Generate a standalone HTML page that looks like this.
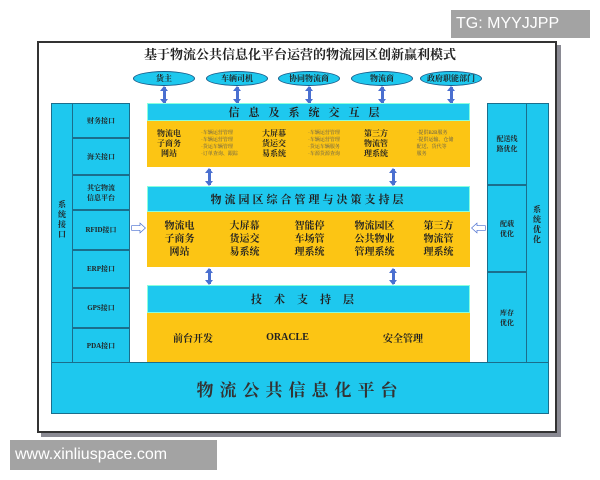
<!DOCTYPE html><html><head><meta charset="utf-8"><style>
body{margin:0;width:600px;height:480px;background:#fff;position:relative;overflow:hidden;font-family:"Liberation Serif","Noto Serif CJK SC","Noto Sans CJK SC",serif}
div{position:absolute;box-sizing:border-box}
.c{background:#1ec8ee;border:1px solid #1b6e8c}
.y{background:#fcc514}
.t{display:flex;align-items:center;justify-content:center;text-align:center;font-weight:bold;color:#222}
.ov{background:#1ec8ee;border:1.5px solid #1b5d8a;border-radius:50%;font-size:8px;height:15px;width:62px;top:71px}
.ar{width:3px;background:#4a6fd0}
.ar:before,.ar:after{content:"";position:absolute;left:-3px;border-left:4.5px solid transparent;border-right:4.5px solid transparent}
.ar:before{top:-1px;border-bottom:5px solid #4a6fd0}
.ar:after{bottom:-1px;border-top:5px solid #4a6fd0}
.sm{font-size:9px;line-height:10px}
.tiny{font-size:5px;line-height:7px;color:#555;font-weight:normal;text-align:left}
</style></head><body>
<div style="left:41px;top:45px;width:520px;height:392px;background:#8a8a93"></div>
<div style="left:37px;top:41px;width:520px;height:392px;background:#fff;border:2px solid #333"></div>
<div class="t" style="left:120px;top:44px;width:360px;height:18px;font-size:13px">基于物流公共信息化平台运营的物流园区创新赢利模式</div>
<div class="ov t" style="left:133px">货主</div>
<div class="ov t" style="left:206px">车辆司机</div>
<div class="ov t" style="left:278px">协同物流商</div>
<div class="ov t" style="left:351px">物流商</div>
<div class="ov t" style="left:420px">政府职能部门</div>
<div class="ar" style="left:163px;top:87px;height:16px"></div>
<div class="ar" style="left:236px;top:87px;height:16px"></div>
<div class="ar" style="left:308px;top:87px;height:16px"></div>
<div class="ar" style="left:381px;top:87px;height:16px"></div>
<div class="ar" style="left:450px;top:87px;height:16px"></div>
<!-- left column -->
<div class="c" style="left:51px;top:103px;width:79px;height:260px"></div>
<div class="t" style="left:53px;top:190px;width:18px;height:60px;font-size:8px;line-height:10px">系<br>统<br>接<br>口</div>
<div class="c t sm" style="left:72px;top:103px;width:58px;height:35px;font-size:7px">财务接口</div>
<div class="c t sm" style="left:72px;top:138px;width:58px;height:37px;font-size:7px">海关接口</div>
<div class="c t sm" style="left:72px;top:175px;width:58px;height:35px;font-size:7px">其它物流<br>信息平台</div>
<div class="c t sm" style="left:72px;top:210px;width:58px;height:40px;font-size:7px">RFID接口</div>
<div class="c t sm" style="left:72px;top:250px;width:58px;height:38px;font-size:7px">ERP接口</div>
<div class="c t sm" style="left:72px;top:288px;width:58px;height:40px;font-size:7px">GPS接口</div>
<div class="c t sm" style="left:72px;top:328px;width:58px;height:35px;font-size:7px">PDA接口</div>
<!-- right column -->
<div class="c" style="left:487px;top:103px;width:62px;height:260px"></div>
<div class="t" style="left:527px;top:200px;width:20px;height:50px;font-size:8px;line-height:10px">系<br>统<br>优<br>化</div>
<div class="c t" style="left:487px;top:103px;width:40px;height:82px;font-size:7px">配送线<br>路优化</div>
<div class="c t" style="left:487px;top:185px;width:40px;height:87px;font-size:7px">配载<br>优化</div>
<div class="c t" style="left:487px;top:272px;width:40px;height:91px;font-size:7px">库存<br>优化</div>
<!-- info layer -->
<div class="c t" style="left:147px;top:103px;width:323px;height:18px;font-size:11px;letter-spacing:9px;border-color:#8fd">信息及系统交互层</div>
<div class="y" style="left:147px;top:121px;width:323px;height:46px"></div>
<div class="t" style="left:150px;top:123px;width:38px;height:42px;font-size:8px;line-height:10px">物流电<br>子商务<br>网站</div>
<div class="t tiny" style="left:192px;top:125px;width:55px;height:38px">·车辆运营管理<br>·车辆运营管理<br>·货运车辆管理<br>·订单查询、跟踪</div>
<div class="t" style="left:255px;top:123px;width:38px;height:42px;font-size:8px;line-height:10px">大屏幕<br>货运交<br>易系统</div>
<div class="t tiny" style="left:298px;top:125px;width:52px;height:38px">·车辆运营管理<br>·车辆运营管理<br>·货运车辆服务<br>·车源货源查询</div>
<div class="t" style="left:356px;top:123px;width:40px;height:42px;font-size:8px;line-height:10px">第三方<br>物流管<br>理系统</div>
<div class="t tiny" style="left:405px;top:125px;width:60px;height:38px">·提供B2B服务<br>·提供运输、仓储<br>配送、货代等<br>服务</div>
<div class="ar" style="left:208px;top:169px;height:16px"></div>
<div class="ar" style="left:392px;top:169px;height:16px"></div>
<!-- management layer -->
<div class="c t" style="left:147px;top:186px;width:323px;height:26px;font-size:11px;letter-spacing:3px;border-color:#8fd">物流园区综合管理与决策支持层</div>
<div class="y" style="left:147px;top:212px;width:323px;height:55px"></div>
<div class="t" style="left:147px;top:214px;width:65px;height:50px;font-size:10px;line-height:13px">物流电<br>子商务<br>网站</div>
<div class="t" style="left:212px;top:214px;width:65px;height:50px;font-size:10px;line-height:13px">大屏幕<br>货运交<br>易系统</div>
<div class="t" style="left:277px;top:214px;width:65px;height:50px;font-size:10px;line-height:13px">智能停<br>车场管<br>理系统</div>
<div class="t" style="left:342px;top:214px;width:65px;height:50px;font-size:10px;line-height:13px">物流园区<br>公共物业<br>管理系统</div>
<div class="t" style="left:407px;top:214px;width:63px;height:50px;font-size:10px;line-height:13px">第三方<br>物流管<br>理系统</div>
<div class="t" style="left:130px;top:219px;width:17px;height:16px;font-size:16px;color:#4a6fd0">⇨</div>
<div class="t" style="left:470px;top:219px;width:17px;height:16px;font-size:16px;color:#4a6fd0">⇦</div>
<div class="ar" style="left:208px;top:269px;height:15px"></div>
<div class="ar" style="left:392px;top:269px;height:15px"></div>
<!-- tech layer -->
<div class="c t" style="left:147px;top:285px;width:323px;height:28px;font-size:11px;letter-spacing:12px;border-color:#8fd">技术支持层</div>
<div class="y" style="left:147px;top:313px;width:323px;height:49px"></div>
<div class="t" style="left:147px;top:313px;width:92px;height:49px;font-size:10px">前台开发</div>
<div class="t" style="left:239px;top:313px;width:97px;height:49px;font-size:10px">ORACLE</div>
<div class="t" style="left:336px;top:313px;width:134px;height:49px;font-size:10px">安全管理</div>
<!-- platform -->
<div class="c t" style="left:51px;top:362px;width:498px;height:52px;font-size:17px;letter-spacing:6px;color:#333">物流公共信息化平台</div>
<!-- watermarks -->
<div style="left:451px;top:10px;width:139px;height:28px;background:#a3a3a3;color:#fff;font-family:'Liberation Sans',sans-serif;font-size:16px;line-height:28px;padding-left:5px">TG: MYYJJPP</div>
<div style="left:10px;top:440px;width:207px;height:30px;background:#a3a3a3;color:#fff;font-family:'Liberation Sans',sans-serif;font-size:16px;line-height:30px;padding-left:5px">www.xinliuspace.com</div>
</body></html>
